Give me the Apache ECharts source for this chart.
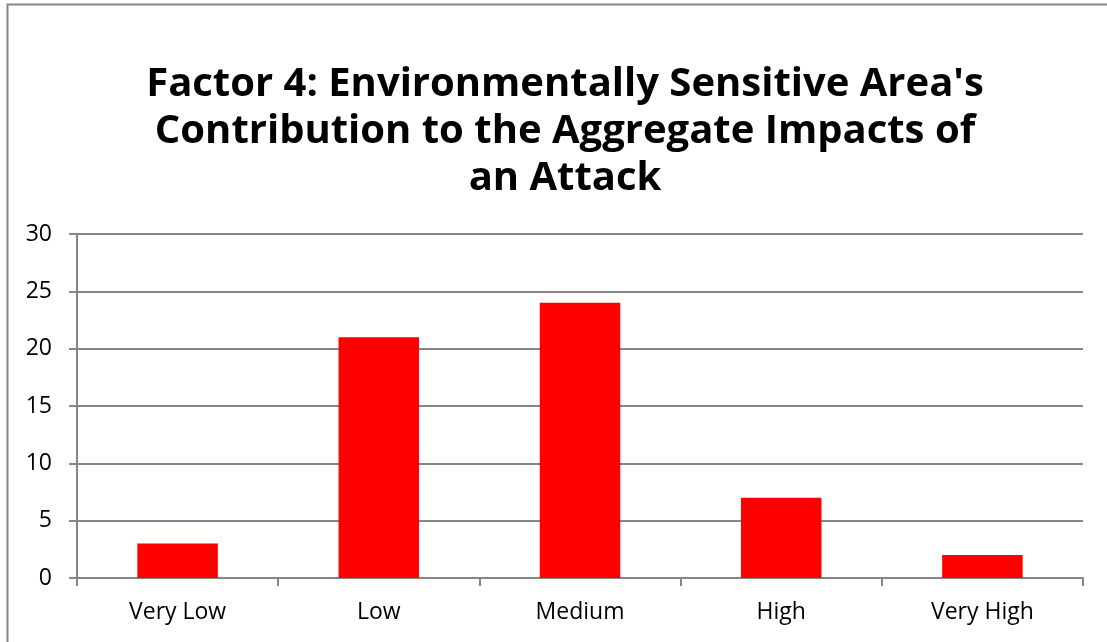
<!DOCTYPE html>
<html>
<head>
<meta charset="utf-8">
<script src="https://cdn.jsdelivr.net/npm/echarts@6/dist/echarts.min.js"></script>
<style>
  html, body { margin: 0; padding: 0; background: #fff; }
  #main { width: 1107px; height: 642px; }
</style>
</head>
<body>
<div id="main"></div>
<script>
// data
var categories = ['Very Low', 'Low', 'Medium', 'High', 'Very High'];
var counts = [3, 21, 24, 7, 2];
var titleText = "Factor 4: Environmentally Sensitive Area's\nContribution to the Aggregate Impacts of\nan Attack";

var dom = document.getElementById('main');
var myChart = echarts.init(dom, null, { renderer: 'canvas' });
var lineColor = '#868686';
var font = '"Open Sans", Lato, sans-serif';

var option = {
    backgroundColor: '#fff',
    animation: false,
    title: {
        text: titleText,
        left: 560,
        textAlign: 'center',
        top: 56,
        textStyle: {
            fontFamily: font,
            fontSize: 40,
            fontWeight: 'bold',
            color: '#000',
            lineHeight: 47
        }
    },
    graphic: [{
        type: 'rect',
        shape: { x: 7.5, y: 4.5, width: 1300, height: 800 },
        style: { fill: null, stroke: lineColor, lineWidth: 2 },
        silent: true
    }],
    grid: {
        left: 77,
        right: 24,
        top: 234,
        bottom: 64,
        containLabel: false
    },
    xAxis: {
        type: 'category',
        data: categories,
        axisLine: { lineStyle: { color: lineColor, width: 2 } },
        axisTick: { show: true, length: 8, lineStyle: { color: lineColor, width: 2 } },
        axisLabel: { color: '#000', fontFamily: font, fontSize: 23, margin: 23 }
    },
    yAxis: {
        type: 'value',
        min: 0,
        max: 30,
        interval: 5,
        axisLine: { show: true, lineStyle: { color: lineColor, width: 2 } },
        axisTick: { show: true, length: 8, lineStyle: { color: lineColor, width: 2 } },
        axisLabel: { color: '#000', fontFamily: font, fontSize: 23, margin: 25 },
        splitLine: { lineStyle: { color: lineColor, width: 2 } }
    },
    series: [{
        type: 'bar',
        data: counts,
        barWidth: '40%',
        itemStyle: { color: '#ff0000' }
    }]
};

myChart.setOption(option);
</script>
</body>
</html>
